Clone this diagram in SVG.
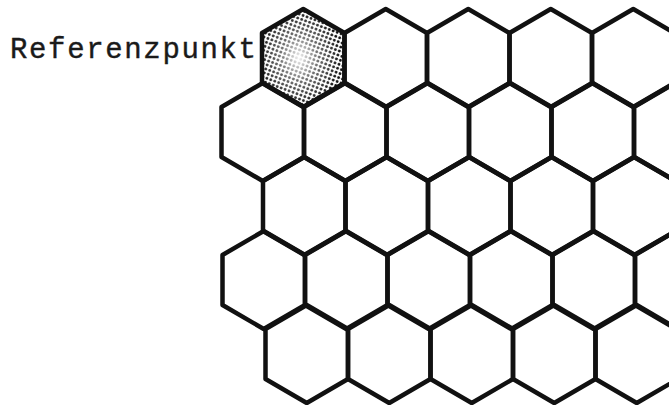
<svg xmlns="http://www.w3.org/2000/svg" xmlns:xlink="http://www.w3.org/1999/xlink" width="669" height="405" viewBox="0 0 669 405">
  <style>
    .hex { fill: none; stroke: #111; stroke-width: 4.5; stroke-linejoin: round; }
    .lbl { font-family: "Liberation Mono", "Courier New", monospace; font-size: 29px; fill: #1a1a1a; stroke: #1a1a1a; stroke-width: 0.4; }
  </style>
  <defs>
    <polygon id="h" points="0,-49 41.25,-25 41.25,25 0,49 -41.25,25 -41.25,-25"/>
    <pattern id="dots" width="4.2" height="4.2" patternUnits="userSpaceOnUse" patternTransform="rotate(20)">
      <circle cx="2.1" cy="2.1" r="1.45" fill="#111"/>
    </pattern>
    <radialGradient id="fade" cx="0.45" cy="0.5" r="0.5">
      <stop offset="0" stop-color="#fff" stop-opacity="0.95"/>
      <stop offset="0.45" stop-color="#fff" stop-opacity="0.4"/>
      <stop offset="1" stop-color="#fff" stop-opacity="0"/>
    </radialGradient>
  </defs>
  <rect width="669" height="405" fill="#fff"/>

  <g id="label">
    <text class="lbl" x="10" y="58" textLength="246" lengthAdjust="spacing">Referenzpunkt</text>
  </g>

  <g id="hex-0-0">
    <use href="#h" transform="translate(303.25,58)" fill="url(#dots)"/>
    <use href="#h" transform="translate(303.25,58)" fill="url(#fade)"/>
    <use href="#h" class="hex" transform="translate(303.25,58)"/>
  </g>
  <g id="hex-0-1"><use href="#h" class="hex" transform="translate(385.75,58)"/></g>
  <g id="hex-0-2"><use href="#h" class="hex" transform="translate(468.25,58)"/></g>
  <g id="hex-0-3"><use href="#h" class="hex" transform="translate(550.75,58)"/></g>
  <g id="hex-0-4"><use href="#h" class="hex" transform="translate(633.25,58)"/></g>

  <g id="hex-1-0"><use href="#h" class="hex" transform="translate(262.75,132)"/></g>
  <g id="hex-1-1"><use href="#h" class="hex" transform="translate(345.25,132)"/></g>
  <g id="hex-1-2"><use href="#h" class="hex" transform="translate(427.75,132)"/></g>
  <g id="hex-1-3"><use href="#h" class="hex" transform="translate(510.25,132)"/></g>
  <g id="hex-1-4"><use href="#h" class="hex" transform="translate(592.75,132)"/></g>
  <g id="hex-1-5"><use href="#h" class="hex" transform="translate(675.25,132)"/></g>

  <g id="hex-2-0"><use href="#h" class="hex" transform="translate(304.25,206)"/></g>
  <g id="hex-2-1"><use href="#h" class="hex" transform="translate(386.75,206)"/></g>
  <g id="hex-2-2"><use href="#h" class="hex" transform="translate(469.25,206)"/></g>
  <g id="hex-2-3"><use href="#h" class="hex" transform="translate(551.75,206)"/></g>
  <g id="hex-2-4"><use href="#h" class="hex" transform="translate(634.25,206)"/></g>

  <g id="hex-3-0"><use href="#h" class="hex" transform="translate(263.75,280)"/></g>
  <g id="hex-3-1"><use href="#h" class="hex" transform="translate(346.25,280)"/></g>
  <g id="hex-3-2"><use href="#h" class="hex" transform="translate(428.75,280)"/></g>
  <g id="hex-3-3"><use href="#h" class="hex" transform="translate(511.25,280)"/></g>
  <g id="hex-3-4"><use href="#h" class="hex" transform="translate(593.75,280)"/></g>
  <g id="hex-3-5"><use href="#h" class="hex" transform="translate(676.25,280)"/></g>

  <g id="hex-4-0"><use href="#h" class="hex" transform="translate(306.75,354)"/></g>
  <g id="hex-4-1"><use href="#h" class="hex" transform="translate(389.25,354)"/></g>
  <g id="hex-4-2"><use href="#h" class="hex" transform="translate(471.75,354)"/></g>
  <g id="hex-4-3"><use href="#h" class="hex" transform="translate(554.25,354)"/></g>
  <g id="hex-4-4"><use href="#h" class="hex" transform="translate(636.75,354)"/></g>

  <g id="connectors"/>
</svg>
